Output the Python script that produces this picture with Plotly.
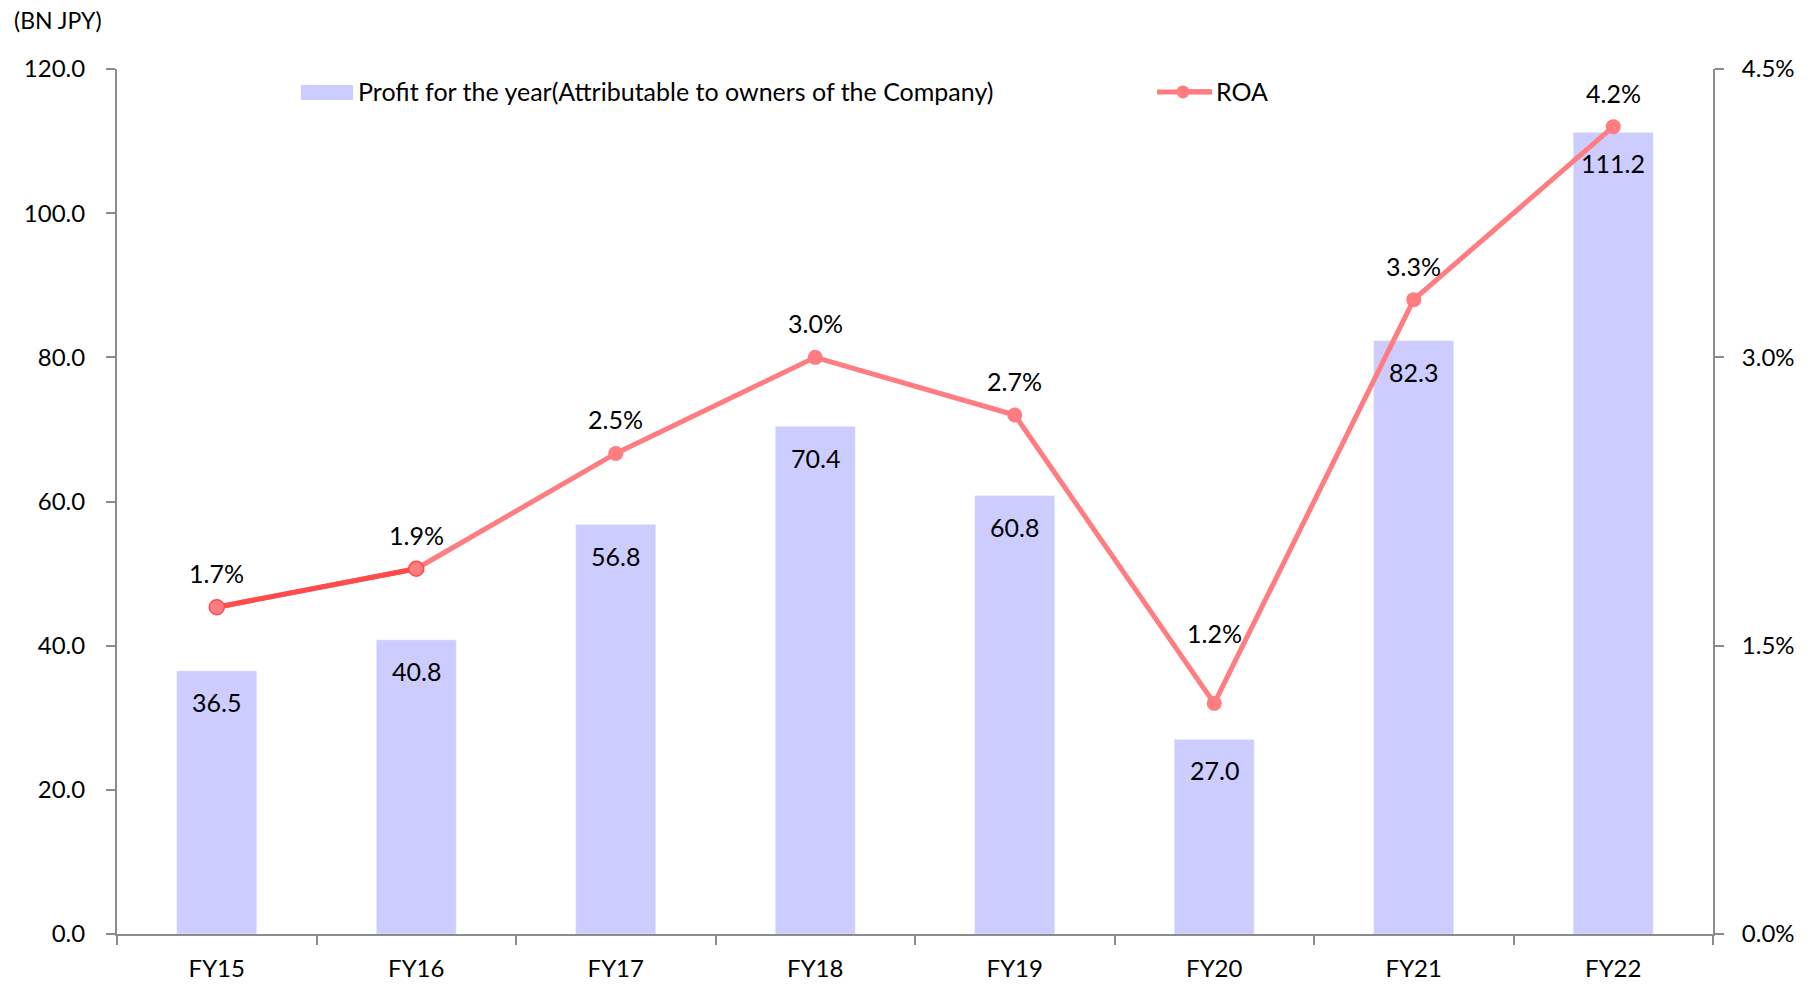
import plotly.graph_objects as go

categories = ["FY15", "FY16", "FY17", "FY18", "FY19", "FY20", "FY21", "FY22"]
profit = [36.5, 40.8, 56.8, 70.4, 60.8, 27.0, 82.3, 111.2]
roa = [1.7, 1.9, 2.5, 3.0, 2.7, 1.2, 3.3, 4.2]
profit_name = "Profit for the year(Attributable to owners of the Company)"
roa_name = "ROA"
unit_label = "(BN JPY)"

FONT = "Lato, 'Open Sans', sans-serif"
AXIS = "#8c8c8c"
BAR = "#ccccff"
LINE = "#ff7c80"
LINE_DARK = "#ff4b4b"

# label offsets (px) above ROA points; FY20 label sits higher in the original
roa_label_shift = {c: 34 for c in categories}
roa_label_shift["FY20"] = 70

fig = go.Figure()
fig.add_trace(go.Bar(x=categories, y=profit, name=profit_name, marker_color=BAR,
                     width=0.4, yaxis="y", showlegend=False))
fig.add_trace(go.Scatter(x=categories, y=roa, name=roa_name, mode="lines+markers",
                         line=dict(color=LINE, width=5), showlegend=False,
                         marker=dict(size=15, color=LINE), yaxis="y2"))
fig.add_trace(go.Scatter(x=categories[:2], y=roa[:2], mode="lines+markers", showlegend=False,
                         line=dict(color=LINE_DARK, width=5),
                         marker=dict(size=15, color=LINE, line=dict(color=LINE_DARK, width=1.5)),
                         yaxis="y2", hoverinfo="skip"))
# legend entries (swatches completed by shapes below)
fig.add_trace(go.Scatter(x=[None], y=[None], name=profit_name, mode="lines",
                         line=dict(color="rgba(0,0,0,0)", width=1), legend="legend"))
fig.add_trace(go.Scatter(x=[None], y=[None], name=roa_name, mode="lines",
                         line=dict(color=LINE, width=5), yaxis="y2", legend="legend2"))

annotations = []
for c, v in zip(categories, profit):
    annotations.append(dict(x=c, y=v, xref="x", yref="y", text=f"{v:.1f}", showarrow=False,
                            yshift=-31, font=dict(size=25, color="#000", family=FONT)))
for c, v in zip(categories, roa):
    annotations.append(dict(x=c, y=v, xref="x", yref="y2", text=f"{v:.1f}%", showarrow=False,
                            yshift=roa_label_shift[c], font=dict(size=25, color="#000", family=FONT)))
annotations.append(dict(x=-0.066, y=1.057, xref="paper", yref="paper", text=unit_label,
                        showarrow=False, xanchor="left", yanchor="middle",
                        font=dict(size=23, color="#000", family=FONT)))

LEG_Y = 0.9735
shapes = [
    dict(type="rect", xref="paper", yref="paper", x0=0.1153, x1=0.1479, y0=0.9643, y1=0.9816,
         fillcolor=BAR, line=dict(width=0), layer="above"),
    dict(type="line", xref="paper", yref="paper", x0=0.6516, x1=0.6861, y0=LEG_Y, y1=LEG_Y,
         line=dict(color=LINE, width=5), layer="above"),
    dict(type="circle", xref="paper", yref="paper", x0=0.6638, x1=0.6720, y0=0.9660, y1=0.9810,
         fillcolor=LINE, line=dict(width=0), layer="above"),
]

fig.update_layout(
    width=1812, height=986,
    margin=dict(l=109, r=107, t=61, b=52),
    paper_bgcolor="white", plot_bgcolor="white",
    font=dict(family=FONT, size=24, color="#000"),
    showlegend=True,
    legend=dict(orientation="h", x=0.126, y=LEG_Y, xanchor="left", yanchor="middle",
                font=dict(size=25, family=FONT), bgcolor="rgba(0,0,0,0)"),
    legend2=dict(orientation="h", x=0.6635, y=LEG_Y, xanchor="left", yanchor="middle",
                 font=dict(size=25, family=FONT), bgcolor="rgba(0,0,0,0)"),
    annotations=annotations,
    shapes=shapes,
    xaxis=dict(showline=True, linecolor=AXIS, linewidth=2, ticks="outside", tickson="boundaries",
               ticklen=9, tickcolor=AXIS, tickwidth=2, showgrid=False, zeroline=False,
               tickfont=dict(size=24), ticklabelstandoff=12),
    yaxis=dict(range=[0, 120], dtick=20, tickformat=".1f", showline=True, linecolor=AXIS,
               linewidth=2, ticks="outside", ticklen=9, tickcolor=AXIS, tickwidth=2,
               showgrid=False, zeroline=False, tickfont=dict(size=24), ticklabelstandoff=16),
    yaxis2=dict(range=[0, 4.5], dtick=1.5, tickformat=".1f", ticksuffix="%", overlaying="y",
                side="right", showline=True, linecolor=AXIS, linewidth=2, ticks="outside",
                ticklen=9, tickcolor=AXIS, tickwidth=2, showgrid=False, zeroline=False,
                tickfont=dict(size=24), ticklabelstandoff=13),
)
fig.write_html("out.html")
